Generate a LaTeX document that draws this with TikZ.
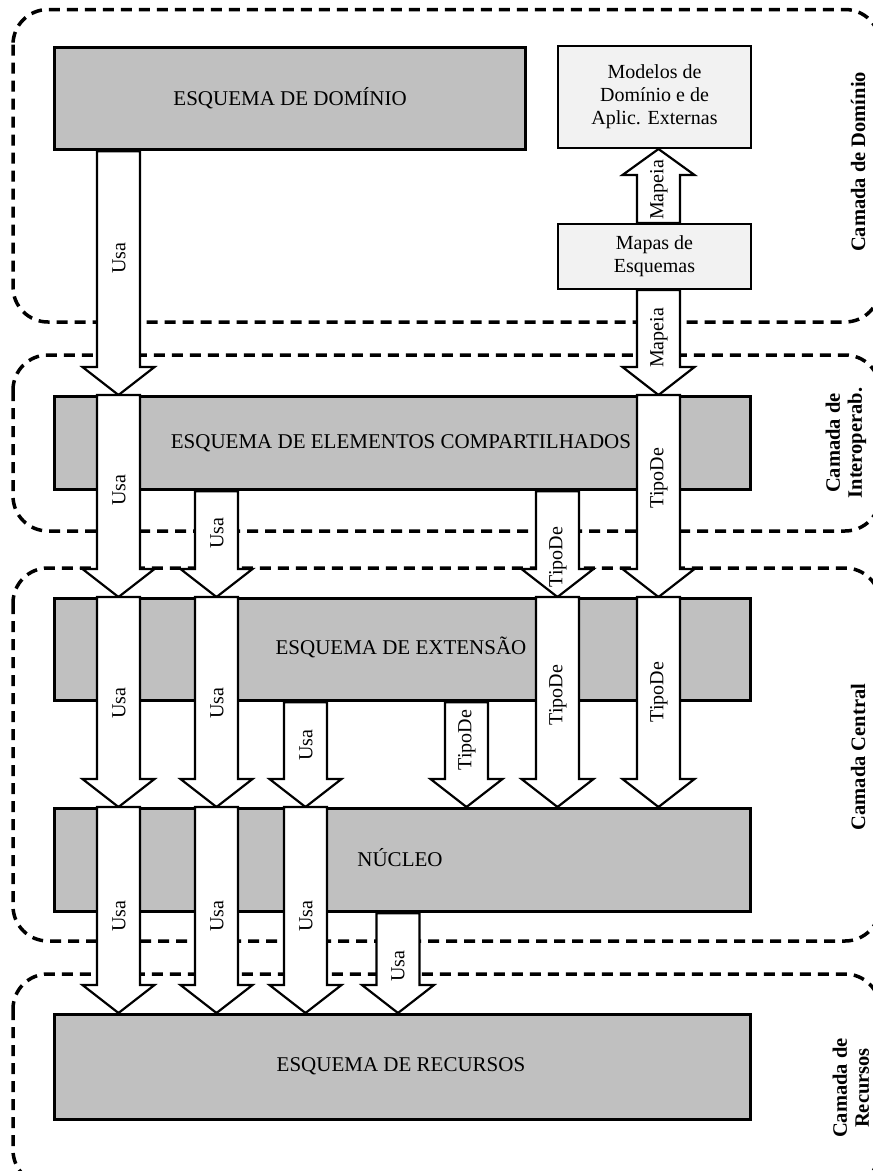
\documentclass[tikz,border=0pt]{standalone}
\usepackage{fontspec}
\setmainfont{Liberation Serif}
\usetikzlibrary{calc}
\definecolor{boxgray}{RGB}{192,192,192}
\definecolor{lightbox}{RGB}{242,242,242}
\newcommand{\blockarr}[3]{%
  \draw[blockarr] ([xshift=-21.5pt]#1) -- ([xshift=-21.5pt,yshift=#3]#2) -- ([xshift=-36pt,yshift=#3]#2) -- (#2) -- ([xshift=36pt,yshift=#3]#2) -- ([xshift=21.5pt,yshift=#3]#2) -- ([xshift=21.5pt]#1) -- cycle;}
\begin{document}
\begin{tikzpicture}[x=1pt,y=-1pt,
  layer/.style={draw=black, line width=3.5pt, dash pattern=on 11pt off 7pt, rounded corners=35pt},
  gbox/.style={draw=black, line width=3.3pt, fill=boxgray, inner sep=0},
  wbox/.style={draw=black, line width=2pt, fill=lightbox, inner sep=0},
  blockarr/.style={draw=black, line width=2.2pt, fill=white, line join=miter},
  lbl/.style={rotate=90, font=\fontsize{20}{22}\selectfont, inner sep=0},
  title/.style={font=\fontsize{21}{24}\selectfont, inner sep=0},
  smalltxt/.style={font=\fontsize{20}{23}\selectfont, align=center, inner sep=0},
  laylbl/.style={rotate=90, font=\bfseries\fontsize{20.5}{22}\selectfont, align=center, inner sep=0},
]
\useasboundingbox (0,0) rectangle (873,1171);
\clip (0,0) rectangle (873,1171);
\fill[white] (0,0) rectangle (873,1171);

% layers
\draw[layer] (13,9.5) rectangle (880,322);
\draw[layer] (13,355) rectangle (880,531);
\draw[layer] (13,568) rectangle (880,941);
\draw[layer] (13,974) rectangle (880,1185);

% boxes
\node[gbox, anchor=north west, minimum width=471pt, minimum height=102pt] (dom) at (53,46) {};
\node[wbox, anchor=north west, minimum width=193pt, minimum height=102pt] (mod) at (557,45) {};
\node[wbox, anchor=north west, minimum width=193pt, minimum height=65pt] (map) at (557,223) {};
\node[gbox, anchor=north west, minimum width=696pt, minimum height=93pt] (inter) at (53,395) {};
\node[gbox, anchor=north west, minimum width=696pt, minimum height=102pt] (ext) at (53,597) {};
\node[gbox, anchor=north west, minimum width=696pt, minimum height=103pt] (nuc) at (53,807) {};
\node[gbox, anchor=north west, minimum width=696pt, minimum height=105pt] (rec) at (53,1013) {};

% columns
\coordinate (c1) at (118.5,0);
\coordinate (c2) at (216.5,0);
\coordinate (c3) at (305.5,0);
\coordinate (c4) at (398,0);
\coordinate (cC) at (466.5,0);
\coordinate (cA) at (557.5,0);
\coordinate (cB) at (658.5,0);

% arrow end points
\coordinate (s1) at (dom.south -| c1);   \coordinate (e1) at (inter.north -| c1);
\coordinate (s2) at (map.north -| cB);   \coordinate (e2) at (mod.south -| cB);
\coordinate (s3) at (map.south -| cB);   \coordinate (e3) at (inter.north -| cB);
\coordinate (s4) at (inter.north -| c1); \coordinate (e4) at (ext.north -| c1);
\coordinate (s5) at (inter.north -| cB); \coordinate (e5) at (ext.north -| cB);
\coordinate (s6) at (inter.south -| c2); \coordinate (e6) at (ext.north -| c2);
\coordinate (s7) at (inter.south -| cA); \coordinate (e7) at (ext.north -| cA);
\coordinate (s8) at (ext.north -| c1);   \coordinate (e8) at (nuc.north -| c1);
\coordinate (s9) at (ext.north -| c2);   \coordinate (e9) at (nuc.north -| c2);
\coordinate (s10) at (ext.south -| c3);  \coordinate (e10) at (nuc.north -| c3);
\coordinate (s11) at (ext.south -| cC);  \coordinate (e11) at (nuc.north -| cC);
\coordinate (s12) at (ext.north -| cA);  \coordinate (e12) at (nuc.north -| cA);
\coordinate (s13) at (ext.north -| cB);  \coordinate (e13) at (nuc.north -| cB);
\coordinate (s14) at (nuc.north -| c1);  \coordinate (e14) at (rec.north -| c1);
\coordinate (s15) at (nuc.north -| c2);  \coordinate (e15) at (rec.north -| c2);
\coordinate (s16) at (nuc.north -| c3);  \coordinate (e16) at (rec.north -| c3);
\coordinate (s17) at (nuc.south -| c4);  \coordinate (e17) at (rec.north -| c4);

% block arrows
\blockarr{s1}{e1}{28pt}
\blockarr{s2}{e2}{-26pt}
\blockarr{s3}{e3}{28pt}
\blockarr{s4}{e4}{28pt}
\blockarr{s5}{e5}{28pt}
\blockarr{s6}{e6}{28pt}
\blockarr{s7}{e7}{28pt}
\blockarr{s8}{e8}{28pt}
\blockarr{s9}{e9}{28pt}
\blockarr{s10}{e10}{28pt}
\blockarr{s11}{e11}{28pt}
\blockarr{s12}{e12}{28pt}
\blockarr{s13}{e13}{28pt}
\blockarr{s14}{e14}{28pt}
\blockarr{s15}{e15}{28pt}
\blockarr{s16}{e16}{28pt}
\blockarr{s17}{e17}{28pt}

% arrow labels
\node[lbl] (l1) at (119,258) {Usa};
\node[lbl] (l2) at (659,190) {Mapeia};
\node[lbl] (l3) at (659,338) {Mapeia};
\node[lbl] (l4) at (119,490) {Usa};
\node[lbl] (l5) at (659,478) {TipoDe};
\node[lbl] (l6) at (217,533) {Usa};
\node[lbl] (l7) at (558,557) {TipoDe};
\node[lbl] (l8) at (119,703) {Usa};
\node[lbl] (l9) at (217,703) {Usa};
\node[lbl] (l10) at (306,745) {Usa};
\node[lbl] (l11) at (467,740) {TipoDe};
\node[lbl] (l12) at (558,695) {TipoDe};
\node[lbl] (l13) at (659,692) {TipoDe};
\node[lbl] (l14) at (119,916) {Usa};
\node[lbl] (l15) at (217,916) {Usa};
\node[lbl] (l16) at (306,916) {Usa};
\node[lbl] (l17) at (398,966) {Usa};

% box titles
\node[title] (tdom) at (dom.center) {ESQUEMA DE DOMÍNIO};
\node[smalltxt] (tmod) at (mod.center) {Modelos de\\Domínio e de\\Aplic. Externas};
\node[smalltxt] (tmap) at (map.center) {Mapas de\\Esquemas};
\node[title] (tint) at (401,443) {ESQUEMA DE ELEMENTOS COMPARTILHADOS};
\node[title] (text) at (401,647) {ESQUEMA DE EXTENSÃO};
\node[title] (tnuc) at (400,858) {NÚCLEO};
\node[title] (trec) at (401,1066) {ESQUEMA DE RECURSOS};

% layer labels
\node[laylbl] (ldom) at (858,162) {Camada de Domínio};
\node[laylbl] (lint) at (846,443) {Camada de\\Interoperab.};
\node[laylbl] (lcen) at (858,757) {Camada Central};
\node[laylbl] (lrec) at (851,1088) {Camada de\\Recursos};
\end{tikzpicture}
\end{document}
